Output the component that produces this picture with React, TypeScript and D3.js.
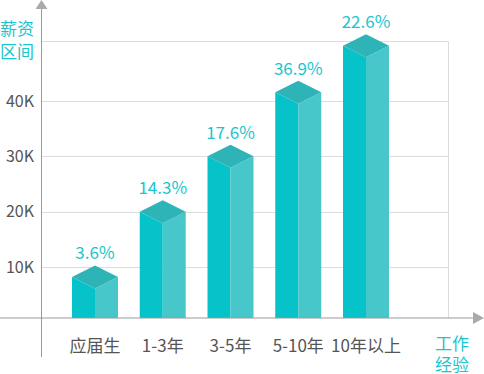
import React from "react";
import * as d3 from "d3";

const categories = ["应届生", "1-3年", "3-5年", "5-10年", "10年以上"];
const salaryK = [8.2, 20, 30, 41.6, 50];
const shares = ["3.6%", "14.3%", "17.6%", "36.9%", "22.6%"];
const yTicks = [10, 20, 30, 40];
const yTickLabels = ["10K", "20K", "30K", "40K"];

const W = 484;
const H = 374;
const axisX = 41.5;
const axisY = 318;
const frameTop = 41.5;
const frameRight = 448.5;
const halfW = 23;
const rh = 11.5;
const FONT = "'Noto Sans CJK SC', 'Noto Sans', sans-serif";
const CYAN = "#19c6cd";

export default function App() {
  const y = d3.scaleLinear().domain([0, 40]).range([322.3, 101]);
  const x = d3.scalePoint<string>().domain(categories).range([95, 366]);

  return (
    <svg width={W} height={H} style={{ position: "absolute", left: 0, top: 0, background: "#fff" }}>
      {/* grid */}
      {yTicks.map((t) => (
        <line key={t} x1={axisX} x2={frameRight} y1={Math.round(y(t)) + 0.5} y2={Math.round(y(t)) + 0.5} stroke="#dcdcdc" strokeWidth={1} />
      ))}
      <line x1={axisX} x2={frameRight} y1={frameTop} y2={frameTop} stroke="#dcdcdc" />
      <line x1={frameRight} x2={frameRight} y1={frameTop} y2={axisY} stroke="#dcdcdc" />
      {/* y tick labels */}
      {yTicks.map((t, i) => (
        <text key={t} x={34} y={y(t)} dy="0.36em" textAnchor="end" fontFamily={FONT} fontSize={16} fill="#555">
          {yTickLabels[i]}
        </text>
      ))}
      {/* bars */}
      {categories.map((c, i) => {
        const cx = x(c)!;
        const top = y(salaryK[i]);
        return (
          <g key={c}>
            <polygon points={`${cx - halfW},${top} ${cx},${top + rh} ${cx},${axisY} ${cx - halfW},${axisY}`} fill="#05c3c8" />
            <polygon points={`${cx},${top + rh} ${cx + halfW},${top} ${cx + halfW},${axisY} ${cx},${axisY}`} fill="#48c7ca" />
            <polygon points={`${cx - halfW},${top} ${cx},${top - rh} ${cx + halfW},${top} ${cx},${top + rh}`} fill="#2eb4b6" />
            <text x={cx} y={top - rh - 6} textAnchor="middle" fontFamily={FONT} fontSize={17} fill={CYAN}>
              {shares[i]}
            </text>
            <text x={cx} y={352} textAnchor="middle" fontFamily={FONT} fontSize={17} fill="#555">
              {c}
            </text>
          </g>
        );
      })}
      {/* axes */}
      <line x1={axisX} x2={axisX} y1={6} y2={357} stroke="#999" strokeWidth={1} />
      <polygon points={`${axisX},0 ${axisX - 6},9 ${axisX + 6},9`} fill="#aaa" />
      <line x1={0} x2={476} y1={axisY} y2={axisY} stroke="#999" strokeWidth={1} />
      <polygon points={`484,${axisY} 473,${axisY - 6} 473,${axisY + 6}`} fill="#aaa" />
      {/* axis titles */}
      <text x={0} y={35} fontFamily={FONT} fontSize={17} fill={CYAN}>薪资</text>
      <text x={0} y={58} fontFamily={FONT} fontSize={17} fill={CYAN}>区间</text>
      <text x={435} y={350} fontFamily={FONT} fontSize={17} fill={CYAN}>工作</text>
      <text x={435} y={371} fontFamily={FONT} fontSize={17} fill={CYAN}>经验</text>
    </svg>
  );
}
